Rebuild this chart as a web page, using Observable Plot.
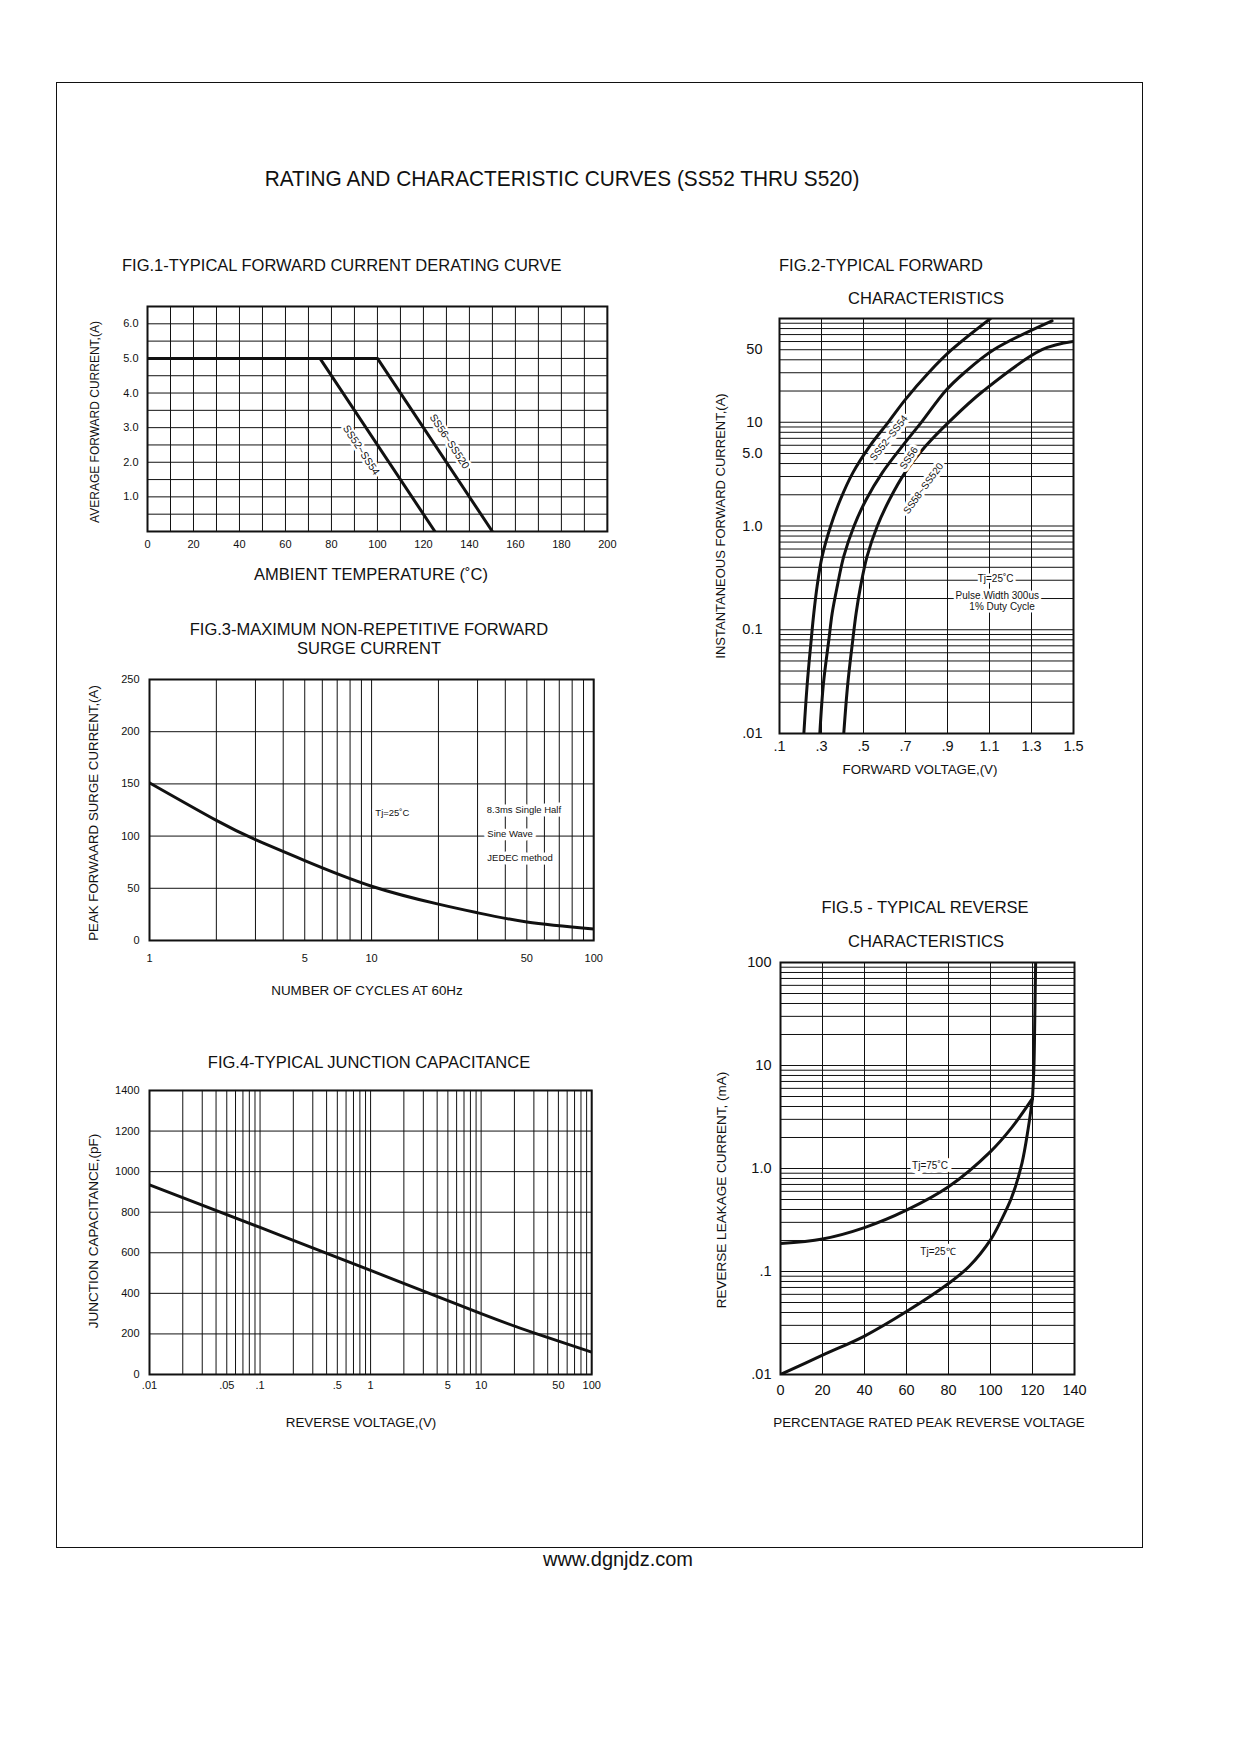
<!DOCTYPE html>
<html>
<head>
<meta charset="utf-8">
<script src="https://cdn.jsdelivr.net/npm/d3@7"></script>
<script src="https://cdn.jsdelivr.net/npm/@observablehq/plot@0.6"></script>
<style>
  html, body { margin: 0; padding: 0; background: #fff; }
  #page { position: relative; width: 1242px; height: 1754px; background: #fff;
          font-family: "Liberation Sans", Arial, Helvetica, sans-serif; color: #111; overflow: hidden; }
  .t { position: absolute; white-space: nowrap; line-height: 1; }
  .c { transform: translate(-50%, -50%); }
  .l { transform: translate(0, -50%); }
  .v { transform: translate(-50%, -50%) rotate(-90deg); }
  #border { position: absolute; left: 56px; top: 82px; width: 1085px; height: 1464px; border: 1px solid #111; }
  svg g[aria-label="text"] text { paint-order: stroke; }
</style>
</head>
<body>
<div id="page"><div id="border"></div></div>
<script>
// ---------------- DATA ----------------
// FIG.1 derating curves
const fig1Temp_SS52 = [0, 75, 125];
const fig1Cur_SS52  = [5, 5, 0];
const fig1Temp_SS56 = [0, 100, 150];
const fig1Cur_SS56  = [5, 5, 0];
const fig1XTicks = [0, 20, 40, 60, 80, 100, 120, 140, 160, 180, 200];
const fig1YTicks = [1, 2, 3, 4, 5, 6];
const fig1YTickLabels = ["1.0", "2.0", "3.0", "4.0", "5.0", "6.0"];
const fig1GridX = d3.range(0, 201, 10);
const fig1GridY = d3.range(0, 6.51, 0.5);
const fig1Labels = ["SS52~SS54", "SS56~SS520"];
const fig1LabelT = [92.9, 131.3];
const fig1LabelI = [2.35, 2.60];

// FIG.2 forward characteristics
const fig2V_SS52 = [0.216, 0.232, 0.251, 0.2635, 0.279, 0.303, 0.343, 0.390, 0.449, 0.529, 0.621, 0.700, 0.810, 0.920, 1.105];
const fig2I_SS52 = [0.01, 0.03, 0.08, 0.145, 0.262, 0.509, 0.99, 1.80, 3.25, 5.86, 10.2, 16.6, 30, 50, 100];
const fig2V_SS56 = [0.292, 0.309, 0.335, 0.351, 0.375, 0.406, 0.454, 0.513, 0.589, 0.684, 0.779, 0.890, 0.980, 1.120, 1.398];
const fig2I_SS56 = [0.01, 0.03, 0.08, 0.145, 0.262, 0.509, 0.99, 1.80, 3.25, 5.86, 10.2, 20, 30, 50, 95];
const fig2V_SS58 = [0.406, 0.425, 0.449, 0.465, 0.486, 0.517, 0.565, 0.624, 0.697, 0.795, 0.910, 1.070, 1.350, 1.5];
const fig2I_SS58 = [0.01, 0.03, 0.08, 0.145, 0.262, 0.509, 0.99, 1.80, 3.25, 5.86, 10.2, 20, 50, 60];
const fig2XTicks = [0.1, 0.3, 0.5, 0.7, 0.9, 1.1, 1.3, 1.5];
const fig2XTickLabels = [".1", ".3", ".5", ".7", ".9", "1.1", "1.3", "1.5"];
const fig2YTicks = [0.01, 0.1, 1, 5, 10, 50];
const fig2YTickLabels = [".01", "0.1", "1.0", "5.0", "10", "50"];
const fig2Labels = ["SS52~SS54", "SS56", "SS58~SS520"];
const fig2LabelV = [0.621, 0.716, 0.785];
const fig2LabelI = [7.05, 4.52, 2.30];
const fig2LabelRot = [-52, -56, -54];
const fig2Notes = ["Tj=25˚C", "Pulse Width 300us", "1% Duty Cycle"];
const fig2NoteV = [1.129, 1.137, 1.16];
const fig2NoteI = [0.313, 0.212, 0.166];

// FIG.3 surge current
const fig3Cycles = [1, 2, 3, 5, 10, 20, 30, 50, 100];
const fig3Amps   = [151, 115, 96.5, 76.5, 52, 34.8, 26.5, 17.8, 11];
const fig3XTicks = [1, 5, 10, 50, 100];
const fig3YTicks = [0, 50, 100, 150, 200, 250];
const fig3Notes = ["8.3ms Single Half", "Sine Wave", "JEDEC method"];
const fig3NoteN = [33, 33.2, 33.2];
const fig3NoteA = [125, 102, 79.5];

// FIG.4 junction capacitance
const fig4Volts = [0.01, 0.1, 1, 10, 30, 100];
const fig4Cap   = [935, 725, 513, 300, 205, 110];
const fig4XTicks = [0.01, 0.05, 0.1, 0.5, 1, 5, 10, 50, 100];
const fig4XTickLabels = [".01", ".05", ".1", ".5", "1", "5", "10", "50", "100"];
const fig4YTicks = [0, 200, 400, 600, 800, 1000, 1200, 1400];

// FIG.5 reverse characteristics
const fig5Pct_75 = [0, 20, 40, 60, 80, 100, 110, 120];
const fig5Cur_75 = [0.187, 0.207, 0.267, 0.394, 0.665, 1.46, 2.48, 4.8];
const fig5Pct_25 = [0, 20, 40, 60, 80, 90, 100, 105, 110, 115, 118, 120];
const fig5Cur_25 = [0.01, 0.0154, 0.0236, 0.0408, 0.0764, 0.113, 0.203, 0.312, 0.519, 1.13, 2.48, 4.8];
const fig5Pct_BD = [120, 120.7, 121.1, 121.5];
const fig5Cur_BD = [4.8, 10, 30, 100];
const fig5XTicks = [0, 20, 40, 60, 80, 100, 120, 140];
const fig5YTicks = [0.01, 0.1, 1, 10, 100];
const fig5YTickLabels = [".01", ".1", "1.0", "10", "100"];
const fig5Labels = ["Tj=75˚C", "Tj=25℃"];
const fig5LabelP = [71.2, 75];
const fig5LabelI = [1.07, 0.155];

// grid helpers (scale positions only)
const decadeGrid = (decades, last) => decades.flatMap(d => [1,2,3,4,5,6,7,8,9].map(k => +(k * d).toPrecision(3))).concat([last]);
const lookup = (ticks, labels) => d => {
  const i = ticks.findIndex(t => Math.abs(t - d) <= 1e-6 * Math.max(Math.abs(t), 1e-9));
  return i < 0 ? "" : labels[i];
};

// ---------------- LAYOUT ----------------
const page = document.getElementById("page");
const INK = "#111";
const FONT = '"Liberation Sans", Arial, Helvetica, sans-serif';
const M = {l: 60, t: 12, r: 20, b: 40};

function txt(s, x, y, size, cls) {
  const d = document.createElement("div");
  d.className = "t " + cls;
  d.textContent = s;
  d.style.left = x + "px";
  d.style.top = y + "px";
  d.style.fontSize = size + "px";
  page.appendChild(d);
  return d;
}
function frameOpts(F) {
  return {
    width: F.R - F.L + M.l + M.r, height: F.B - F.T + M.t + M.b,
    marginLeft: M.l, marginTop: M.t, marginRight: M.r, marginBottom: M.b,
    style: {fontFamily: FONT, color: INK, background: "transparent", overflow: "visible"}
  };
}
function mount(svg, F) {
  svg.style.position = "absolute";
  svg.style.left = (F.L - M.l) + "px";
  svg.style.top = (F.T - M.t) + "px";
  page.appendChild(svg);
}
const zipXY = (xs, ys) => xs.map((x, i) => ({x, y: ys[i]}));
const grid = {stroke: INK, strokeWidth: 1};
const curve = {x: "x", y: "y", stroke: INK, strokeWidth: 3, clip: true};
// tick labels drawn as text marks at the frame edge
const xTickText = (ticks, labels, yAt, pad, size) =>
  Plot.text(ticks.map((t, i) => ({t, s: labels[i]})), {x: "t", y: () => yAt, text: "s", dy: pad + size * 0.35, fontSize: size, fill: INK, lineAnchor: "middle"});
const yTickText = (ticks, labels, xAt, pad, size) =>
  Plot.text(ticks.map((t, i) => ({t, s: labels[i]})), {x: () => xAt, y: "t", text: "s", dx: -pad, textAnchor: "end", fontSize: size, fill: INK});

// header & footer
const head = txt("RATING AND CHARACTERISTIC CURVES (SS52 THRU S520)", 562, 179, 22.5, "c");
head.style.transform = `translate(-50%, -50%) scaleX(${595 / head.offsetWidth})`;
txt("www.dgnjdz.com", 618, 1559, 20, "c");

// ---------- FIG.1 ----------
const F1 = {L: 146.6, T: 305.5, R: 606.5, B: 530.5};
mount(Plot.plot({
  ...frameOpts(F1),
  x: {domain: [0, 200]},
  y: {domain: [0, 6.5]},
  marks: [
    Plot.ruleX(fig1GridX, grid),
    Plot.ruleY(fig1GridY, grid),
    Plot.line(zipXY(fig1Temp_SS52, fig1Cur_SS52), {...curve}),
    Plot.line(zipXY(fig1Temp_SS56, fig1Cur_SS56), {...curve}),
    Plot.text(fig1Labels.map((s, i) => ({s, x: fig1LabelT[i], y: fig1LabelI[i]})),
      {x: "x", y: "y", text: "s", rotate: 56.5, fontSize: 10.5, fill: INK, stroke: "white", strokeWidth: 5, paintOrder: "stroke"}),
    Plot.frame({stroke: INK, strokeWidth: 2}),
    Plot.axisX({ticks: fig1XTicks, tickSize: 0, tickPadding: 9, fontSize: 11, label: null}),
    Plot.axisY({ticks: fig1YTicks, tickFormat: lookup(fig1YTicks, fig1YTickLabels), tickSize: 0, tickPadding: 9, fontSize: 11, label: null})
  ]
}), F1);
txt("FIG.1-TYPICAL FORWARD CURRENT DERATING CURVE", 122, 265, 16.5, "l");
txt("AMBIENT TEMPERATURE (˚C)", 371, 574, 16.5, "c");
txt("AVERAGE FORWARD CURRENT,(A)", 95, 422, 12, "v");

// ---------- FIG.2 ----------
const F2 = {L: 779, T: 318, R: 1073, B: 733};
mount(Plot.plot({
  ...frameOpts(F2),
  x: {domain: [0.1, 1.5], axis: null},
  y: {type: "log", domain: [0.01, 100], axis: null},
  marks: [
    Plot.ruleX(fig2XTicks, grid),
    Plot.ruleY(decadeGrid([0.01, 0.1, 1, 10], 100), grid),
    Plot.line(zipXY(fig2V_SS52, fig2I_SS52), {...curve, curve: "catmull-rom"}),
    Plot.line(zipXY(fig2V_SS56, fig2I_SS56), {...curve, curve: "catmull-rom"}),
    Plot.line(zipXY(fig2V_SS58, fig2I_SS58), {...curve, curve: "catmull-rom"}),
    Plot.text(fig2Labels.map((s, i) => ({s, x: fig2LabelV[i], y: fig2LabelI[i], r: fig2LabelRot[i]})),
      {x: "x", y: "y", text: "s", rotate: "r", fontSize: 10, fill: INK, stroke: "white", strokeWidth: 6, paintOrder: "stroke"}),
    Plot.text(fig2Notes.map((s, i) => ({s, x: fig2NoteV[i], y: fig2NoteI[i]})),
      {x: "x", y: "y", text: "s", fontSize: 10, fill: INK, stroke: "white", strokeWidth: 5, paintOrder: "stroke"}),
    Plot.frame({stroke: INK, strokeWidth: 2}),
    xTickText(fig2XTicks, fig2XTickLabels, 0.01, 8, 14.5),
    yTickText(fig2YTicks, fig2YTickLabels, 0.1, 17, 14.5)
  ]
}), F2);
txt("FIG.2-TYPICAL FORWARD", 779, 265, 16.5, "l");
txt("CHARACTERISTICS", 926, 298, 16.5, "c");
txt("FORWARD VOLTAGE,(V)", 920, 770, 13.4, "c");
txt("INSTANTANEOUS FORWARD CURRENT,(A)", 719.5, 526, 13, "v");

// ---------- FIG.3 ----------
const F3 = {L: 148.8, T: 679, R: 593, B: 940};
mount(Plot.plot({
  ...frameOpts(F3),
  x: {type: "log", domain: [1, 100], axis: null},
  y: {domain: [0, 250], axis: null},
  marks: [
    Plot.ruleX(decadeGrid([1, 10], 100), grid),
    Plot.ruleY(fig3YTicks, grid),
    Plot.line(zipXY(fig3Cycles, fig3Amps), {...curve, curve: "natural"}),
    Plot.text([{s: "Tj=25˚C", x: 12.4, y: 121.8}],
      {x: "x", y: "y", text: "s", fontSize: 9.5, fill: INK, stroke: "white", strokeWidth: 6, paintOrder: "stroke"}),
    Plot.text(fig3Notes.map((s, i) => ({s, x: fig3NoteN[i], y: fig3NoteA[i]})),
      {x: "x", y: "y", text: "s", textAnchor: "start", fontSize: 9.5, fill: INK, stroke: "white", strokeWidth: 7, paintOrder: "stroke"}),
    Plot.frame({stroke: INK, strokeWidth: 2}),
    xTickText(fig3XTicks, fig3XTicks.map(String), 0, 14, 11),
    yTickText(fig3YTicks, fig3YTicks.map(String), 1, 10, 11)
  ]
}), F3);
txt("FIG.3-MAXIMUM NON-REPETITIVE FORWARD", 369, 629, 16.5, "c");
txt("SURGE CURRENT", 369, 648, 16.5, "c");
txt("NUMBER OF CYCLES AT 60Hz", 367, 991, 13.4, "c");
txt("PEAK FORWAARD SURGE CURRENT,(A)", 94, 813, 13.3, "v");

// ---------- FIG.4 ----------
const F4 = {L: 148.8, T: 1090, R: 591, B: 1374};
mount(Plot.plot({
  ...frameOpts(F4),
  x: {type: "log", domain: [0.01, 100], axis: null},
  y: {domain: [0, 1400], axis: null},
  marks: [
    Plot.ruleX(decadeGrid([0.01, 0.1, 1, 10], 100), grid),
    Plot.ruleY(fig4YTicks, grid),
    Plot.line(zipXY(fig4Volts, fig4Cap), {...curve, curve: "natural"}),
    Plot.frame({stroke: INK, strokeWidth: 2}),
    xTickText(fig4XTicks, fig4XTickLabels, 0, 7, 11),
    yTickText(fig4YTicks, fig4YTicks.map(String), 0.01, 10, 11)
  ]
}), F4);
txt("FIG.4-TYPICAL JUNCTION CAPACITANCE", 369, 1062, 16.5, "c");
txt("REVERSE VOLTAGE,(V)", 361, 1423, 13.4, "c");
txt("JUNCTION CAPACITANCE,(pF)", 94, 1231, 13.5, "v");

// ---------- FIG.5 ----------
const F5 = {L: 780, T: 962, R: 1074, B: 1374};
mount(Plot.plot({
  ...frameOpts(F5),
  x: {domain: [0, 140], axis: null},
  y: {type: "log", domain: [0.01, 100], axis: null},
  marks: [
    Plot.ruleX(fig5XTicks, grid),
    Plot.ruleY(decadeGrid([0.01, 0.1, 1, 10], 100), grid),
    Plot.line(zipXY(fig5Pct_75, fig5Cur_75), {...curve, curve: "catmull-rom"}),
    Plot.line(zipXY(fig5Pct_25, fig5Cur_25), {...curve, curve: "catmull-rom"}),
    Plot.line(zipXY(fig5Pct_BD, fig5Cur_BD), {...curve, curve: "catmull-rom"}),
    Plot.text(fig5Labels.map((s, i) => ({s, x: fig5LabelP[i], y: fig5LabelI[i]})),
      {x: "x", y: "y", text: "s", fontSize: 10, fill: INK, stroke: "white", strokeWidth: 8, paintOrder: "stroke"}),
    Plot.frame({stroke: INK, strokeWidth: 2}),
    xTickText(fig5XTicks, fig5XTicks.map(String), 0.01, 11, 14.5),
    yTickText(fig5YTicks, fig5YTickLabels, 0, 9, 14.5)
  ]
}), F5);
txt("FIG.5 - TYPICAL REVERSE", 925, 907, 16.5, "c");
txt("CHARACTERISTICS", 926, 941, 16.5, "c");
txt("PERCENTAGE RATED PEAK REVERSE VOLTAGE", 929, 1423, 13.4, "c");
txt("REVERSE LEAKAGE CURRENT, (mA)", 722, 1190, 13.5, "v");
</script>
</body>
</html>
